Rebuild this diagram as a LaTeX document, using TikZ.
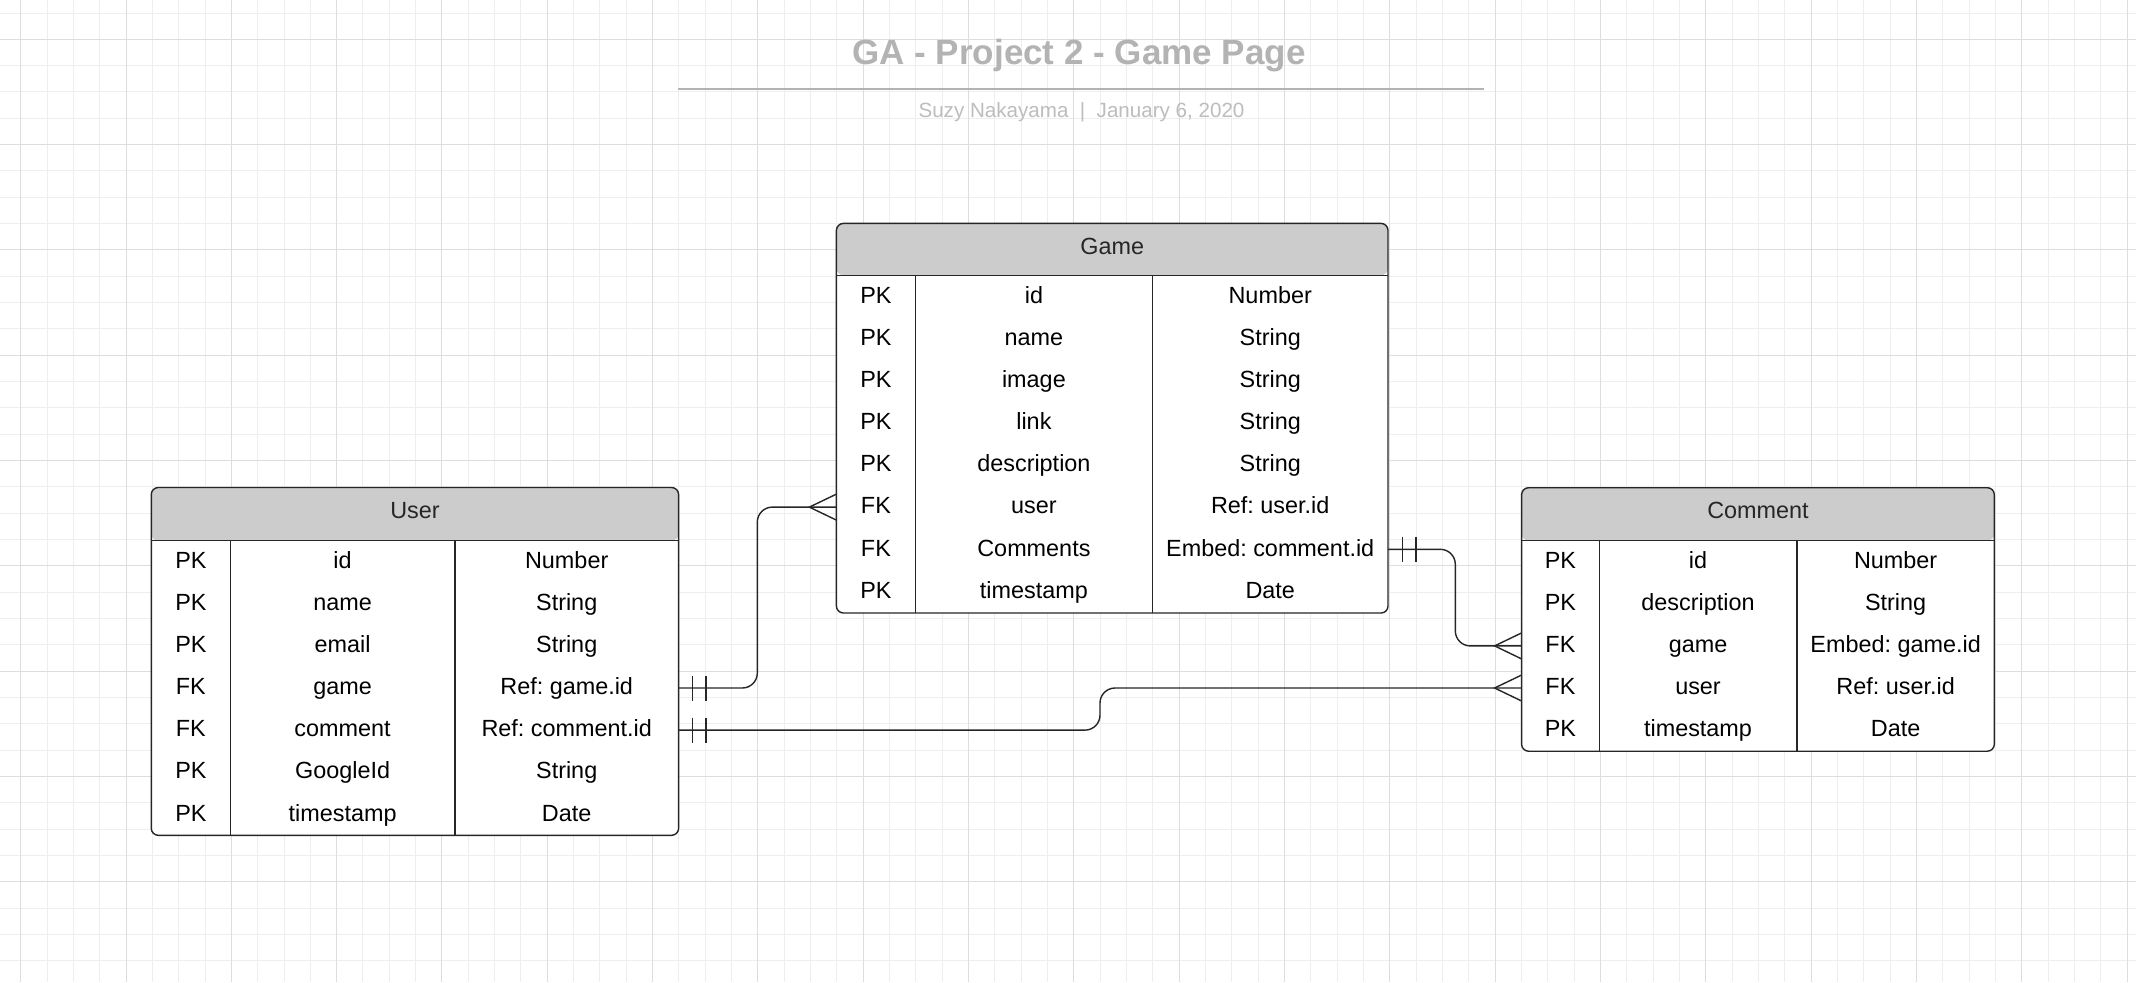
\documentclass[tikz,border=0pt]{standalone}
\usepackage{fontspec}
\setmainfont{Liberation Sans}
\usetikzlibrary{calc}
\definecolor{headgray}{HTML}{CCCCCC}
\definecolor{titlegray}{HTML}{B3B3B3}
\definecolor{subgray}{HTML}{BDBDBD}
\definecolor{gridminor}{HTML}{EEEEEE}
\definecolor{gridmajor}{HTML}{DDDDDD}
\frenchspacing

\begin{document}
\begin{tikzpicture}
[x=0.5pt, y=-0.5pt,
MinorLine/.style={draw=gridminor, line width=0.5pt},
MajorLine/.style={draw=gridmajor, line width=0.5pt},
Table/.style={rectangle, draw=black!85, fill=white, line width=0.7pt, rounded corners=3.5pt, inner sep=0pt, outer sep=0pt,
  path picture={\fill[headgray] (path picture bounding box.north west) rectangle ([yshift=-#1]path picture bounding box.north east);}},
Cell/.style={font=\fontsize{11.7}{13}\selectfont, text height=6.7pt, text depth=0pt, inner sep=0pt},
Head/.style={Cell, text=black!85},
Rule/.style={draw=black!85, line width=0.7pt},
Link/.style={draw=black!85, line width=0.7pt, rounded corners=7.5pt},
Mark/.style={draw=black!85, line width=0.7pt}]

\useasboundingbox[fill=white] (0,0) rectangle (2136,982);

% Raster
\foreach \i in {0,...,81} \draw[MinorLine] ({-5.63+\i*26.33},0) -- ({-5.63+\i*26.33},982);
\foreach \i in {0,...,36} \draw[MinorLine] (0,{13+\i*26.33}) -- (2136,{13+\i*26.33});
\foreach \i in {0,...,20} \draw[MajorLine] ({20.7+\i*105.32},0) -- ({20.7+\i*105.32},982);
\foreach \i in {0,...,8} \draw[MajorLine] (0,{39.3+\i*105.32}) -- (2136,{39.3+\i*105.32});

% Titel
\node[font=\bfseries\fontsize{17.5}{20}\selectfont, text=titlegray, anchor=base, inner sep=0pt] (title) at (1079,64.5) {GA - Project 2 - Game Page};
\draw[draw=titlegray, line width=1pt] (678,89.3) -- (1483.6,89.3);
\node[font=\fontsize{10.3}{12}\selectfont, text=subgray, anchor=base, inner sep=0pt] (sub) at (1081.5,117.3) {Suzy Nakayama\ \ |\ \ January 6, 2020};

% User
\node[Table=26.6pt, minimum width=263.65pt, minimum height=173.9pt] (user) at (414.95,661.4) {};
\draw[Rule] (151.3,540.7) -- (678.6,540.7);
\draw[Rule] (230.4,540.7) -- (230.4,835.3);
\draw[Rule] (454.8,540.7) -- (454.8,835.3);
\node[Head] (uh) at (415,512) {User};
\node[Cell] (uk1) at (190.9,561.7) {PK};
\node[Cell] (uf1) at (342.6,561.7) {id};
\node[Cell] (ut1) at (566.7,561.7) {Number};
\node[Cell] (uk2) at (190.9,603.8) {PK};
\node[Cell] (uf2) at (342.6,603.8) {name};
\node[Cell] (ut2) at (566.7,603.8) {String};
\node[Cell] (uk3) at (190.9,645.9) {PK};
\node[Cell] (uf3) at (342.6,645.9) {email};
\node[Cell] (ut3) at (566.7,645.9) {String};
\node[Cell] (uk4) at (190.9,688.0) {FK};
\node[Cell] (uf4) at (342.6,688.0) {game};
\node[Cell] (ut4) at (566.7,688.0) {Ref: game.id};
\node[Cell] (uk5) at (190.9,730.1) {FK};
\node[Cell] (uf5) at (342.6,730.1) {comment};
\node[Cell] (ut5) at (566.7,730.1) {Ref: comment.id};
\node[Cell] (uk6) at (190.9,772.2) {PK};
\node[Cell] (uf6) at (342.6,772.2) {GoogleId};
\node[Cell] (ut6) at (566.7,772.2) {String};
\node[Cell] (uk7) at (190.9,814.3) {PK};
\node[Cell] (uf7) at (342.6,814.3) {timestamp};
\node[Cell] (ut7) at (566.7,814.3) {Date};

% Game
\node[Table=25.9pt, minimum width=275.8pt, minimum height=194.8pt] (game) at (1112.2,418.2) {};
\draw[Rule] (836.4,275.2) -- (1388,275.2);
\draw[Rule] (915.4,275.2) -- (915.4,613);
\draw[Rule] (1152.4,275.2) -- (1152.4,613);
\node[Head] (gh) at (1112.2,247.3) {Game};
\node[Cell] (gk1) at (875.9,296.3) {PK};
\node[Cell] (gf1) at (1033.9,296.3) {id};
\node[Cell] (gt1) at (1270.2,296.3) {Number};
\node[Cell] (gk2) at (875.9,338.5) {PK};
\node[Cell] (gf2) at (1033.9,338.5) {name};
\node[Cell] (gt2) at (1270.2,338.5) {String};
\node[Cell] (gk3) at (875.9,380.6) {PK};
\node[Cell] (gf3) at (1033.9,380.6) {image};
\node[Cell] (gt3) at (1270.2,380.6) {String};
\node[Cell] (gk4) at (875.9,422.8) {PK};
\node[Cell] (gf4) at (1033.9,422.8) {link};
\node[Cell] (gt4) at (1270.2,422.8) {String};
\node[Cell] (gk5) at (875.9,465.0) {PK};
\node[Cell] (gf5) at (1033.9,465.0) {description};
\node[Cell] (gt5) at (1270.2,465.0) {String};
\node[Cell] (gk6) at (875.9,507.1) {FK};
\node[Cell] (gf6) at (1033.9,507.1) {user};
\node[Cell] (gt6) at (1270.2,507.1) {Ref: user.id};
\node[Cell] (gk7) at (875.9,549.3) {FK};
\node[Cell] (gf7) at (1033.9,549.3) {Comments};
\node[Cell] (gt7) at (1270.2,549.3) {Embed: comment.id};
\node[Cell] (gk8) at (875.9,591.5) {PK};
\node[Cell] (gf8) at (1033.9,591.5) {timestamp};
\node[Cell] (gt8) at (1270.2,591.5) {Date};

% Comment
\node[Table=26.5pt, minimum width=236.35pt, minimum height=131.75pt] (comment) at (1757.95,619.45) {};
\draw[Rule] (1521.6,540.7) -- (1994.3,540.7);
\draw[Rule] (1599.2,540.7) -- (1599.2,751.2);
\draw[Rule] (1796.8,540.7) -- (1796.8,751.2);
\node[Head] (ch) at (1758,512) {Comment};
\node[Cell] (ck1) at (1560.4,561.7) {PK};
\node[Cell] (cf1) at (1698,561.7) {id};
\node[Cell] (ct1) at (1895.6,561.7) {Number};
\node[Cell] (ck2) at (1560.4,603.8) {PK};
\node[Cell] (cf2) at (1698,603.8) {description};
\node[Cell] (ct2) at (1895.6,603.8) {String};
\node[Cell] (ck3) at (1560.4,645.9) {FK};
\node[Cell] (cf3) at (1698,645.9) {game};
\node[Cell] (ct3) at (1895.6,645.9) {Embed: game.id};
\node[Cell] (ck4) at (1560.4,688.0) {FK};
\node[Cell] (cf4) at (1698,688.0) {user};
\node[Cell] (ct4) at (1895.6,688.0) {Ref: user.id};
\node[Cell] (ck5) at (1560.4,730.1) {PK};
\node[Cell] (cf5) at (1698,730.1) {timestamp};
\node[Cell] (ct5) at (1895.6,730.1) {Date};

% Verbindungen
\draw[Link] (ut4 -| user.east) -- ++(78.7,0) |- (gk6 -| game.west);
\draw[Link] (ut5 -| user.east) -- ++(421.4,0) |- (ck4 -| comment.west);
\draw[Link] (gt7 -| game.east) -- ++(67.3,0) |- (ck3 -| comment.west);

% Striche (eins)
\draw[Mark] ($(ut4 -| user.east)+(13.6,-12.5)$) -- ++(0,25);
\draw[Mark] ($(ut4 -| user.east)+(27.3,-12.5)$) -- ++(0,25);
\draw[Mark] ($(ut5 -| user.east)+(13.6,-12.5)$) -- ++(0,25);
\draw[Mark] ($(ut5 -| user.east)+(27.3,-12.5)$) -- ++(0,25);
\draw[Mark] ($(gt7 -| game.east)+(14.7,-12.5)$) -- ++(0,25);
\draw[Mark] ($(gt7 -| game.east)+(28,-12.5)$) -- ++(0,25);

% Kraehenfuss (viele)
\draw[Mark] ($(gk6 -| game.west)+(0,-13)$) -- ++(-27,13) -- ++(27,13);
\draw[Mark] ($(ck3 -| comment.west)+(0,-13)$) -- ++(-27,13) -- ++(27,13);
\draw[Mark] ($(ck4 -| comment.west)+(0,-13)$) -- ++(-27,13) -- ++(27,13);

\end{tikzpicture}
\end{document}
